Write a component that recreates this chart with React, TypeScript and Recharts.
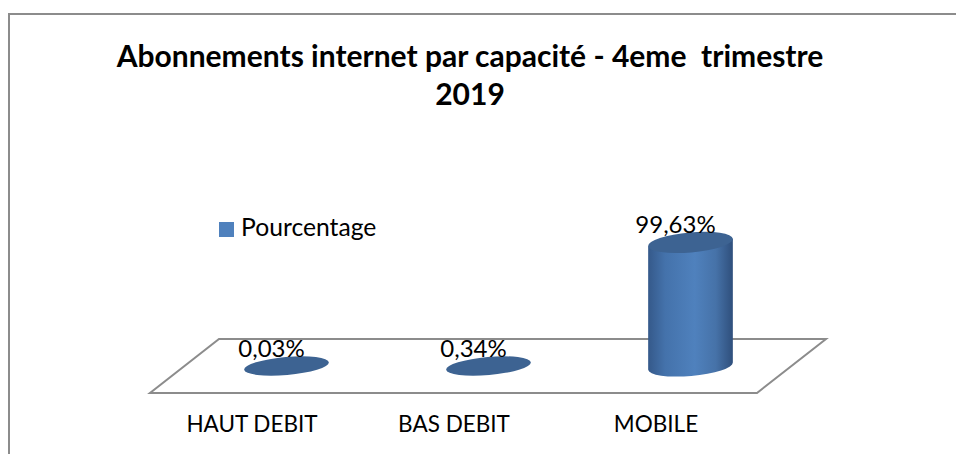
import { BarChart, Bar, XAxis, YAxis, Legend, LabelList, usePlotArea } from "recharts";

const CATEGORIES = ["HAUT DEBIT", "BAS DEBIT", "MOBILE"];
const VALUES = [0.03, 0.34, 99.63];
const VALUE_LABELS = ["0,03%", "0,34%", "99,63%"];
const SERIES_NAME = "Pourcentage";
const TITLE_LINES = ["Abonnements internet par capacité - 4eme  trimestre", "2019"];

const data = CATEGORIES.map((name, i) => ({ name, value: VALUES[i], label: VALUE_LABELS[i] }));

const FONT = "Lato, Carlito, Calibri, sans-serif";
const TILT = -5;
const RY = 10;

// floor drawn relative to the plot area, depth goes up and to the right
function Floor() {
  const plot = usePlotArea();
  if (!plot) return null;
  const front = plot.y + plot.height + 27;
  const back = front - 54;
  const left = plot.x;
  const right = plot.x + plot.width;
  return (
    <polygon
      points={`${left - 35},${front} ${right - 34},${front} ${right + 35},${back} ${left + 34},${back}`}
      fill="none"
      stroke="#8c8c8c"
      strokeWidth={2}
    />
  );
}

function Cylinder(props: any) {
  const { x, y, width, height } = props;
  const cx = x + width / 2;
  const rx = width / 2;
  const bottom = y + height;
  if (height < 4) {
    return <ellipse cx={cx} cy={bottom} rx={rx} ry={RY - 1} fill="#3d6392" transform={`rotate(${TILT} ${cx} ${bottom})`} />;
  }
  // side walls meet the tilted ellipses at their end points
  const dy = rx * Math.sin((-TILT * Math.PI) / 180);
  const dx = rx * Math.cos((-TILT * Math.PI) / 180);
  const body =
    `M${cx - dx},${y + dy} L${cx - dx},${bottom + dy} ` +
    `A${rx},${RY} ${TILT} 0 0 ${cx + dx},${bottom - dy} L${cx + dx},${y - dy} Z`;
  return (
    <g>
      <path d={body} fill="url(#cylGrad)" />
      <ellipse cx={cx} cy={y} rx={rx} ry={RY} fill="#3d6392" transform={`rotate(${TILT} ${cx} ${y})`} />
    </g>
  );
}

function ValueLabel(props: any) {
  const { x, y, width, value } = props;
  return (
    <text x={x + width / 2 - 15} y={y - 9} textAnchor="middle" fontFamily={FONT} fontSize={24} fill="#000">
      {value}
    </text>
  );
}

function CategoryTick(props: any) {
  const { x, y, payload } = props;
  return (
    <text x={x - 34} y={y + 58} textAnchor="middle" fontFamily={FONT} fontSize={22.5} fill="#000">
      {payload.value}
    </text>
  );
}

export default function App() {
  return (
    <div style={{ position: "absolute", left: 0, top: 0, width: 956, height: 454, background: "#fff", overflow: "hidden" }}>
      <div style={{ position: "absolute", left: 8, top: 13, width: 1000, height: 500, border: "2px solid #8c8c8c" }} />
      <BarChart
        width={956}
        height={454}
        data={data}
        margin={{ top: 242, right: 165, bottom: 0, left: 185 }}
        style={{ position: "absolute", left: 0, top: 0 }}
      >
        <defs>
          <linearGradient id="cylGrad" x1="0" y1="0" x2="1" y2="0">
            <stop offset="0" stopColor="#35598a" />
            <stop offset="0.2" stopColor="#4472ab" />
            <stop offset="0.55" stopColor="#4f81bd" />
            <stop offset="0.8" stopColor="#4672a8" />
            <stop offset="1" stopColor="#2f4f7c" />
          </linearGradient>
        </defs>
        <text textAnchor="middle" fontFamily={FONT} fontWeight={700} fontSize={30} fill="#000" style={{ whiteSpace: "pre" }}>
          <tspan x={470} y={67}>{TITLE_LINES[0]}</tspan>
          <tspan x={470} y={105}>{TITLE_LINES[1]}</tspan>
        </text>
        <Floor />
        <XAxis dataKey="name" axisLine={false} tickLine={false} tick={<CategoryTick />} height={88} interval={0} />
        <YAxis hide domain={[0, 100]} />
        <Legend
          layout="vertical"
          align="center"
          verticalAlign="middle"
          iconType="square"
          iconSize={15}
          wrapperStyle={{ position: "absolute", left: 219, top: 212, width: "auto", fontFamily: FONT, fontSize: 24.7 }}
          formatter={(v) => <span style={{ color: "#000", marginLeft: 3 }}>{v}</span>}
        />
        <Bar dataKey="value" name={SERIES_NAME} fill="#4f81bd" barSize={85} shape={<Cylinder />} isAnimationActive={false}>
          <LabelList dataKey="label" content={<ValueLabel />} />
        </Bar>
      </BarChart>
    </div>
  );
}
